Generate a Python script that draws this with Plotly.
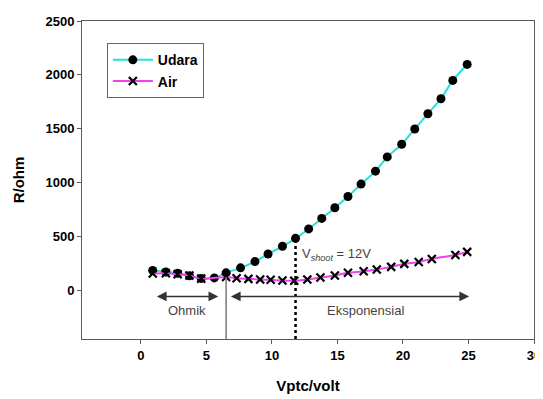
import plotly.graph_objects as go

# ---- data ----
udara_x = [0.9, 1.9, 2.8, 3.7, 4.6, 5.6, 6.5, 7.6, 8.7, 9.7, 10.8, 11.8, 12.8,
           13.8, 14.8, 15.8, 16.8, 17.9, 18.8, 19.9, 20.9, 21.9, 22.9, 23.8, 24.9]
udara_y = [185, 172, 160, 137, 112, 117, 164, 210, 268, 339, 410, 484, 571,
           669, 768, 872, 987, 1107, 1239, 1357, 1498, 1640, 1779, 1949, 2097]

air_x = [0.9, 1.9, 2.8, 3.7, 4.6, 6.5, 7.3, 8.2, 9.1, 9.9, 10.8, 11.7, 12.7,
         13.7, 14.8, 15.8, 17.0, 18.0, 19.1, 20.1, 21.2, 22.2, 24.0, 24.9]
air_y = [157, 160, 150, 139, 110, 125, 114, 108, 102, 99, 92, 90, 102,
         120, 139, 164, 178, 195, 219, 247, 265, 293, 330, 358]

x_ticks = [0, 5, 10, 15, 20, 25, 30]
y_ticks = [0, 500, 1000, 1500, 2000, 2500]
x_range = [-4.5, 30]
y_range = [-450, 2500]

ohmic_end = 6.5        # boundary between ohmic and exponential regions
ohmic_top = 125
v_shoot = 11.8         # V_shoot marker
v_shoot_top = 450
arrow_y = -55
label_y = -185
ohmik_arrow = [1.1, 5.9]
eksp_arrow = [6.75, 25.05]

FONT = "Liberation Sans, Arial, sans-serif"
AXIS_COLOR = "#5a5a5a"

fig = go.Figure()

fig.add_trace(go.Scatter(
    x=udara_x, y=udara_y, name="Udara", mode="lines+markers",
    line=dict(color="#22E0E0", width=2, shape="spline", smoothing=0.8),
    marker=dict(symbol="circle", size=9, color="black"),
))
fig.add_trace(go.Scatter(
    x=air_x, y=air_y, name="Air", mode="lines+markers",
    line=dict(color="#F040F0", width=2, shape="spline", smoothing=0.8),
    marker=dict(symbol="x-thin", size=8, color="black",
                line=dict(width=2.2, color="black")),
))

# vertical boundary lines
fig.add_shape(type="line", x0=ohmic_end, x1=ohmic_end, y0=y_range[0], y1=ohmic_top,
              xref="x", yref="y", line=dict(color="#777777", width=1.5))
fig.add_shape(type="line", x0=v_shoot, x1=v_shoot, y0=y_range[0], y1=v_shoot_top,
              xref="x", yref="y", line=dict(color="black", width=2.5, dash="dot"))

arrow_color = "#333333"
for a, b in (ohmik_arrow, eksp_arrow):
    fig.add_annotation(x=b, y=arrow_y, ax=a, ay=arrow_y, xref="x", yref="y",
                       axref="x", ayref="y", text="", showarrow=True,
                       arrowhead=2, arrowside="end+start", arrowsize=1.3,
                       arrowwidth=1.5, arrowcolor=arrow_color, standoff=0,
                       startstandoff=0)

fig.add_annotation(x=sum(ohmik_arrow) / 2, y=label_y, text="Ohmik",
                   showarrow=False, font=dict(family=FONT, size=13, color="#444444"))
fig.add_annotation(x=17.15, y=label_y, text="Eksponensial",
                   showarrow=False, font=dict(family=FONT, size=13, color="#444444"))
fig.add_annotation(x=12.15, y=333, text="V<sub><i>shoot</i></sub> = 12V",
                   xanchor="left", showarrow=False,
                   font=dict(family=FONT, size=13, color="#444444"))

axis_common = dict(showline=True, linecolor=AXIS_COLOR, linewidth=1, mirror=True,
                   ticks="outside", ticklen=4, tickcolor=AXIS_COLOR, showgrid=False,
                   zeroline=False, automargin=False,
                   tickfont=dict(family=FONT, size=13, color="black", weight="bold"))

# the page body has an 8px default margin: the figure is sized to fit inside it
fig.update_layout(
    width=535, height=391,
    margin=dict(l=74, r=9, t=13, b=60, autoexpand=False),
    paper_bgcolor="white", plot_bgcolor="white",
    showlegend=True,
    legend=dict(x=0.055, y=0.93, xanchor="left", yanchor="top",
                bordercolor="#666666", borderwidth=1, bgcolor="white",
                font=dict(family=FONT, size=14, color="black", weight="bold"),
                tracegroupgap=0, itemwidth=40),
    xaxis=dict(range=x_range, tickvals=x_ticks,
               title=dict(text="<b>Vptc/volt</b>", standoff=18,
                          font=dict(family=FONT, size=15, color="black")),
               **axis_common),
    yaxis=dict(range=y_range, tickvals=y_ticks,
               title=dict(text="<b>R/ohm</b>", standoff=17,
                          font=dict(family=FONT, size=15, color="black")),
               **axis_common),
    hovermode=False,
)

fig.write_html("out.html", config={"displayModeBar": False})
